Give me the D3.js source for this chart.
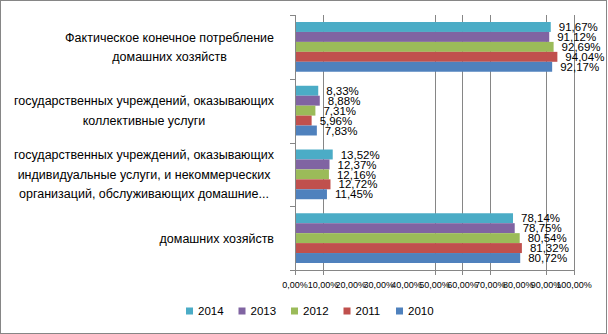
<!DOCTYPE html>
<html>
<head>
<meta charset="utf-8">
<script src="https://cdn.jsdelivr.net/npm/d3@7"></script>
<style>
  html, body { margin: 0; padding: 0; background: #fff; }
  svg { display: block; font-family: "Liberation Sans", Arial, sans-serif; }
</style>
</head>
<body>
<svg id="chart" width="608" height="334"></svg>
<script>
// Category labels (each entry is a list of lines)
const categories = [
  ["Фактическое конечное потребление", "домашних хозяйств"],
  ["государственных учреждений, оказывающих", "коллективные услуги"],
  ["государственных учреждений, оказывающих", "индивидуальные услуги, и некоммерческих", "организаций, обслуживающих домашние..."],
  ["домашних хозяйств"]
];
const years = ["2014", "2013", "2012", "2011", "2010"];
const values2014 = [91.67, 8.33, 13.52, 78.14];
const values2013 = [91.12, 8.88, 12.37, 78.75];
const values2012 = [92.69, 7.31, 12.16, 80.54];
const values2011 = [94.04, 5.96, 12.72, 81.32];
const values2010 = [92.17, 7.83, 11.45, 80.72];
const tickValues = [0, 10, 20, 30, 40, 50, 60, 70, 80, 90, 100];
const gridValues = [0, 10, 50, 60, 70, 90, 100];
const colors = ["#4BACC6", "#8064A2", "#9BBB59", "#C0504D", "#4F81BD"];

const seriesValues = [values2014, values2013, values2012, values2011, values2010];
const series = years.map((y, i) => ({ year: y, color: colors[i], values: seriesValues[i] }));

const fmt = v => d3.format(".2f")(v).replace(".", ",") + "%";

const svg = d3.select("#chart");
const W = 608, H = 334;

// outer frame
svg.append("rect").attr("x", 0.5).attr("y", 0.5).attr("width", W - 2).attr("height", H - 1)
  .attr("fill", "#fff").attr("stroke", "#868686").attr("stroke-width", 1);

const plot = { left: 295, right: 574, top: 15, bottom: 270 };

const x = d3.scaleLinear().domain([0, 100]).range([plot.left, plot.right]);
const y = d3.scaleBand().domain(d3.range(categories.length)).range([plot.top, plot.bottom]).padding(0);
const bw = y.bandwidth();
const yInner = d3.scaleBand().domain(years).range([bw * 0.11, bw * 0.89]).padding(0);

// vertical gridlines
svg.append("g").selectAll("line").data(gridValues).join("line")
  .attr("x1", d => Math.round(x(d)) + 0.5).attr("x2", d => Math.round(x(d)) + 0.5)
  .attr("y1", plot.top).attr("y2", plot.bottom)
  .attr("stroke", "#868686").attr("stroke-width", 1);

// bars
const groups = svg.append("g").selectAll("g").data(categories).join("g")
  .attr("transform", (d, i) => `translate(0,${y(i)})`);

series.forEach(s => {
  groups.append("rect")
    .attr("x", x(0) + 0.5)
    .attr("y", (d, i) => yInner(s.year))
    .attr("width", (d, i) => x(s.values[i]) - x(0) - 0.5)
    .attr("height", yInner.bandwidth())
    .attr("fill", s.color);
});

// data labels
series.forEach(s => {
  groups.append("text")
    .attr("x", (d, i) => x(s.values[i]) + 8)
    .attr("y", (d, i) => yInner(s.year) + yInner.bandwidth() / 2)
    .attr("dy", "0.36em")
    .attr("font-size", 11.5)
    .attr("fill", "#000")
    .text((d, i) => fmt(s.values[i]));
});

// left axis line with category separator ticks
svg.append("line").attr("x1", plot.left + 0.5).attr("x2", plot.left + 0.5)
  .attr("y1", plot.top).attr("y2", plot.bottom).attr("stroke", "#868686");
svg.append("g").selectAll("line").data(d3.range(categories.length + 1)).join("line")
  .attr("x1", plot.left - 5).attr("x2", plot.left)
  .attr("y1", d => Math.round(plot.top + d * bw) + 0.5)
  .attr("y2", d => Math.round(plot.top + d * bw) + 0.5)
  .attr("stroke", "#868686");

// bottom axis
const xAxis = svg.append("g").attr("transform", `translate(0,${plot.bottom})`);
xAxis.append("line").attr("x1", plot.left).attr("x2", plot.right + 1)
  .attr("y1", 0.5).attr("y2", 0.5).attr("stroke", "#868686");
xAxis.selectAll("line.tick").data(gridValues).join("line").attr("class", "tick")
  .attr("x1", d => Math.round(x(d)) + 0.5).attr("x2", d => Math.round(x(d)) + 0.5)
  .attr("y1", 0).attr("y2", 5).attr("stroke", "#868686");
xAxis.selectAll("text").data(tickValues).join("text")
  .attr("x", d => x(d)).attr("y", 15).attr("dy", "0.36em")
  .attr("text-anchor", "middle").attr("font-size", 9).attr("fill", "#000")
  .text(d => fmt(d));

// category labels: block right-aligned, lines centered within block
const labelRight = 274, lineH = 19.5;
categories.forEach((lines, i) => {
  const g = svg.append("g");
  const cy = y(i) + bw / 2;
  const texts = lines.map((t, j) => g.append("text")
    .attr("y", cy + (j - (lines.length - 1) / 2) * lineH)
    .attr("dy", "0.36em")
    .attr("font-size", 12.5).attr("fill", "#000")
    .attr("text-anchor", "middle").text(t));
  const maxW = d3.max(texts, t => t.node().getComputedTextLength());
  texts.forEach(t => t.attr("x", labelRight - maxW / 2));
});

// legend
const legend = svg.append("g").attr("transform", "translate(186,311)");
series.forEach((s, i) => {
  const it = legend.append("g").attr("transform", `translate(${i * 52.5},0)`);
  it.append("rect").attr("x", 0).attr("y", -3.5).attr("width", 7).attr("height", 7).attr("fill", s.color);
  it.append("text").attr("x", 12).attr("y", 0).attr("dy", "0.36em")
    .attr("font-size", 11.5).attr("fill", "#000").text(s.year);
});
</script>
</body>
</html>
